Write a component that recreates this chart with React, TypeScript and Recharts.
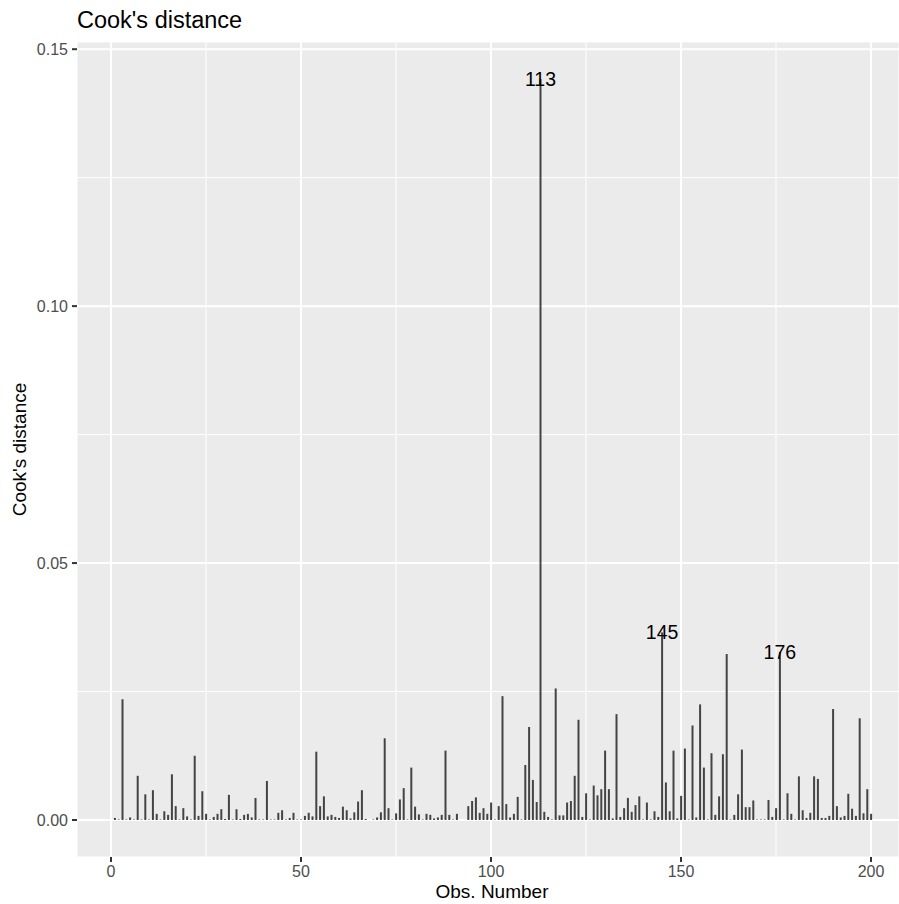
import { Bar, BarChart, CartesianGrid, LabelList, XAxis, YAxis } from "recharts";

// Cook's distance per observation, obs 1..200 in order
const COOKS_D = [
  0.0004, 0.0001, 0.0235, 0.0001, 0.0005, 0.0001, 0.0086, 0.0001, 0.005, 0.0001,
  0.0058, 0.0012, 0.0001, 0.0017, 0.001, 0.0089, 0.0027, 0.0001, 0.0023, 0.0007,
  0.0001, 0.0125, 0.0008, 0.0056, 0.0012, 0.0001, 0.0006, 0.0012, 0.0021, 0.0002,
  0.0049, 0.0001, 0.0021, 0.0002, 0.001, 0.0012, 0.0005, 0.0043, 0.0001, 0.0001,
  0.0076, 0.0001, 0.0001, 0.0014, 0.0019, 0.0001, 0.0004, 0.0014, 0.0001, 0.0001,
  0.0008, 0.0014, 0.0007, 0.0133, 0.0027, 0.0046, 0.0007, 0.001, 0.0006, 0.0004,
  0.0026, 0.0019, 0.0003, 0.0015, 0.0036, 0.0058, 0.0002, 0.0, 0.0001, 0.0005,
  0.0015, 0.0159, 0.0023, 0.0001, 0.0013, 0.004, 0.0062, 0.0001, 0.0102, 0.0026,
  0.0011, 0.0001, 0.0012, 0.001, 0.0003, 0.0005, 0.001, 0.0135, 0.001, 0.0001,
  0.0012, 0.0, 0.0, 0.0027, 0.0037, 0.0044, 0.0014, 0.0023, 0.0012, 0.0034,
  0.0001, 0.0027, 0.0241, 0.0031, 0.0005, 0.0012, 0.0045, 0.0001, 0.0107, 0.0181,
  0.0078, 0.0035, 0.1442, 0.0016, 0.0006, 0.0001, 0.0256, 0.0009, 0.0009, 0.0034,
  0.0037, 0.0086, 0.0195, 0.0006, 0.0052, 0.0001, 0.0067, 0.0048, 0.006, 0.0135,
  0.006, 0.0003, 0.0206, 0.0006, 0.0023, 0.0043, 0.0016, 0.0029, 0.0046, 0.0001,
  0.0034, 0.0001, 0.0017, 0.0006, 0.0365, 0.0073, 0.0017, 0.0135, 0.0003, 0.0047,
  0.0139, 0.0001, 0.0184, 0.0005, 0.0225, 0.0102, 0.0001, 0.013, 0.001, 0.0046,
  0.0128, 0.0323, 0.0001, 0.001, 0.005, 0.0137, 0.0025, 0.0025, 0.0038, 0.0001,
  0.0001, 0.0001, 0.0039, 0.0006, 0.0023, 0.0327, 0.0001, 0.0052, 0.0012, 0.0001,
  0.0085, 0.0019, 0.0004, 0.0014, 0.0085, 0.008, 0.0004, 0.0004, 0.0008, 0.0216,
  0.0027, 0.0005, 0.0008, 0.0051, 0.0022, 0.0008, 0.0198, 0.0013, 0.006, 0.0012,
];
const LABELED_OBS = [113, 145, 176];

// grid positions: majors get labels, minors only a thin line
const X_TICKS = [0, 25, 50, 75, 100, 125, 150, 175, 200];
const X_MAJOR = [0, 50, 100, 150, 200];
const Y_TICKS = [0, 0.025, 0.05, 0.075, 0.1, 0.125, 0.15];
const Y_MAJOR = [0, 0.05, 0.1, 0.15];

const rows = COOKS_D.map((d, i) => ({ obs: i + 1, cooksd: d }));

const W = 899;
const H = 904;
const FONT = '"Liberation Sans", Arial, Helvetica, sans-serif';
const TICK_LEN = 5;
const TICK_GAP = 3;
const isMajor = (v: number, majors: number[]) => majors.some((m) => Math.abs(m - v) < 1e-9);

function XTick(props: any) {
  const { x, y, payload } = props;
  if (!isMajor(payload.value, X_MAJOR)) return <g />;
  const top = y - TICK_GAP - TICK_LEN;
  return (
    <g>
      <line x1={x} x2={x} y1={top} y2={top + TICK_LEN} stroke="#333333" strokeWidth={2} />
      <text x={x} y={y} dy="0.72em" textAnchor="middle" fill="#4D4D4D" fontSize={16} fontFamily={FONT}>
        {payload.value}
      </text>
    </g>
  );
}

function YTick(props: any) {
  const { x, y, payload } = props;
  if (!isMajor(payload.value, Y_MAJOR)) return <g />;
  const left = x + TICK_GAP;
  return (
    <g>
      <line x1={left} x2={left + TICK_LEN} y1={y} y2={y} stroke="#333333" strokeWidth={2} />
      <text x={x - 1} y={y} dy="0.36em" textAnchor="end" fill="#4D4D4D" fontSize={16} fontFamily={FONT}>
        {payload.value.toFixed(2)}
      </text>
    </g>
  );
}

function gridLine(ticks: number[], majors: number[]) {
  return (p: any) => (
    <line
      key={p.key}
      x1={p.x1}
      y1={p.y1}
      x2={p.x2}
      y2={p.y2}
      stroke="#FFFFFF"
      strokeWidth={isMajor(ticks[p.index], majors) ? 2 : 1}
    />
  );
}

function ObsLabel(props: any) {
  const { x, y, width, value } = props;
  if (!LABELED_OBS.includes(value)) return null;
  return (
    <text x={x + width / 2} y={y} dy="0.36em" textAnchor="middle" fill="#000" fontSize={19.5} fontFamily={FONT}>
      {value}
    </text>
  );
}

export default function App() {
  return (
    <div style={{ position: "absolute", left: 0, top: 0, width: W, height: H, overflow: "hidden", background: "#fff" }}>
      <BarChart width={W} height={H} data={rows} margin={{ top: 42, right: 0, bottom: 0, left: 0 }}>
        <CartesianGrid
          fill="#EBEBEB"
          stroke="#FFFFFF"
          horizontal={gridLine([...Y_TICKS], Y_MAJOR)}
          vertical={gridLine([...X_TICKS], X_MAJOR)}
        />
        <XAxis
          type="number"
          dataKey="obs"
          domain={[-8.95, 207.37]}
          allowDataOverflow
          ticks={X_TICKS}
          interval={0}
          height={47}
          axisLine={false}
          tickLine={false}
          tickSize={TICK_LEN}
          tickMargin={TICK_GAP}
          tick={XTick}
        />
        <YAxis
          type="number"
          domain={[-0.0072, 0.1514]}
          allowDataOverflow
          ticks={Y_TICKS}
          interval={0}
          width={77}
          axisLine={false}
          tickLine={false}
          tickSize={TICK_LEN}
          tickMargin={TICK_GAP}
          tick={YTick}
        />
        <Bar dataKey="cooksd" fill="#444444" barSize={2} isAnimationActive={false}>
          <LabelList dataKey="obs" content={ObsLabel} />
        </Bar>
      </BarChart>
      <svg width={W} height={H} style={{ position: "absolute", left: 0, top: 0, pointerEvents: "none" }}>
        <text x={77} y={27.5} fontSize={23.5} fontFamily={FONT} fill="#000">
          Cook's distance
        </text>
        <text x={492} y={898} textAnchor="middle" fontSize={19} fontFamily={FONT} fill="#000">
          Obs. Number
        </text>
        <text
          x={26}
          y={449.5}
          transform="rotate(-90, 26, 449.5)"
          textAnchor="middle"
          fontSize={19}
          fontFamily={FONT}
          fill="#000"
        >
          Cook's distance
        </text>
      </svg>
    </div>
  );
}
